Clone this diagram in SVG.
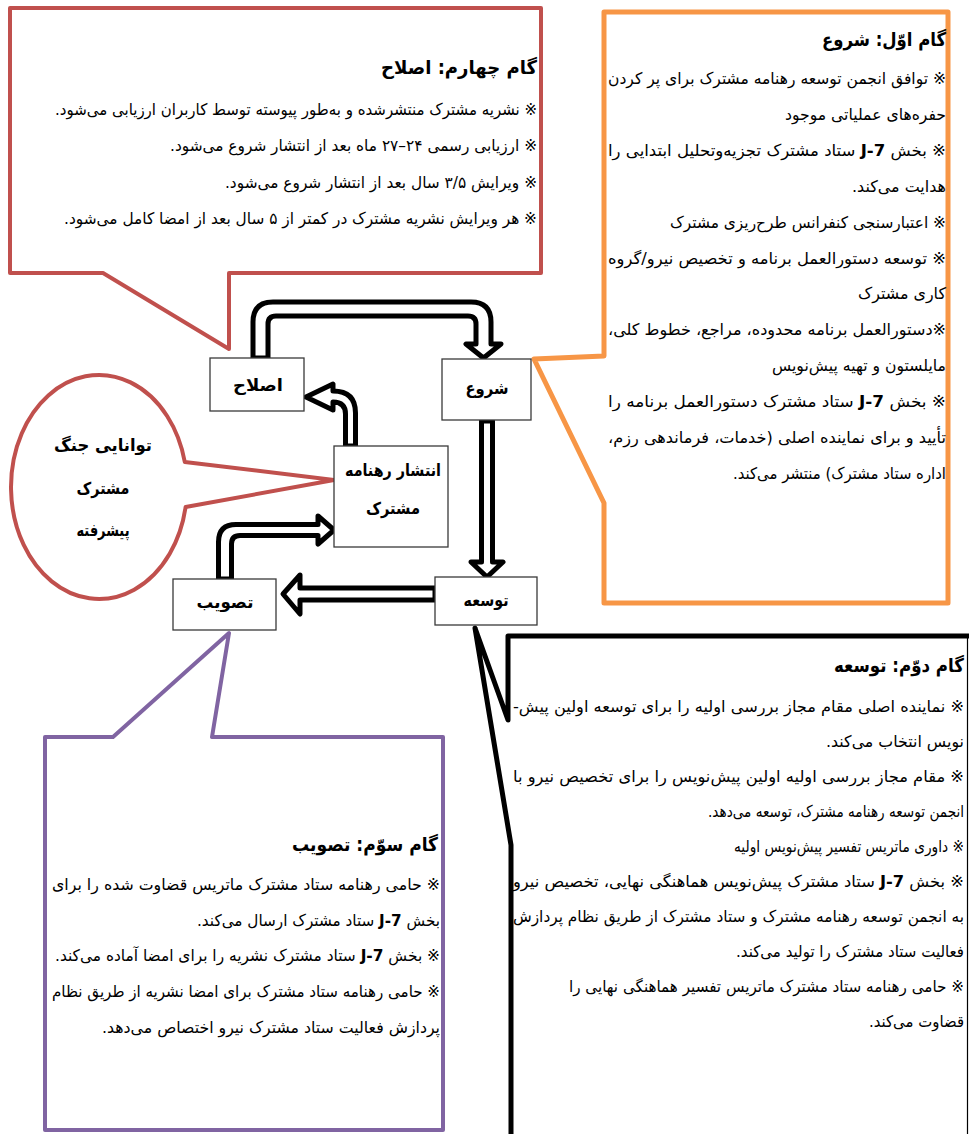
<svg xmlns="http://www.w3.org/2000/svg" width="969" height="1134" viewBox="0 0 969 1134">
<style>
.bg{fill:#fff}
.box{fill:#fff;stroke:#3a3a3a;stroke-width:1.3}
.arrow{fill:#fff;stroke:#000;stroke-width:5;stroke-linejoin:round}
.lbl{font-family:'DejaVu Sans',sans-serif;font-weight:bold;font-size:17px;text-anchor:middle;direction:rtl;fill:#000}
.b{font-family:'DejaVu Sans',sans-serif;font-size:16px;direction:rtl;text-anchor:start;fill:#000}
.ttl{font-family:'DejaVu Sans',sans-serif;font-size:19px;font-weight:bold;direction:rtl;text-anchor:start;fill:#000}
.j{font-weight:bold}
.red{fill:#fff;stroke:#C0504D;stroke-width:4;stroke-linejoin:round}
.org{fill:#fff;stroke:#F79646;stroke-width:5;stroke-linejoin:round}
.pur{fill:#fff;stroke:#8064A2;stroke-width:4;stroke-linejoin:round}
.blk{fill:#fff;stroke:#000;stroke-width:5;stroke-linejoin:round}
</style>
<rect class="bg" x="0" y="0" width="969" height="1134"/>

<g id="callout-step4">
<path class="red" d="M10,8 L541,8 L541,273 L229,273 L229,349 L103,273 L10,273 Z"/>
<text class="ttl" x="537" y="74" textLength="156" lengthAdjust="spacingAndGlyphs">گام چهارم: اصلاح</text>
<text class="b" x="537" y="115" textLength="482" lengthAdjust="spacingAndGlyphs">※ نشریه مشترک منتشرشده و به&#x200C;طور پیوسته توسط کاربران ارزیابی می&#x200C;شود.</text>
<text class="b" x="537" y="151" textLength="367" lengthAdjust="spacingAndGlyphs">※ ارزیابی رسمی ۲۴–۲۷ ماه بعد از انتشار شروع می&#x200C;شود.</text>
<text class="b" x="537" y="188" textLength="312" lengthAdjust="spacingAndGlyphs">※ ویرایش ۳/۵ سال بعد از انتشار شروع می&#x200C;شود.</text>
<text class="b" x="537" y="224" textLength="473" lengthAdjust="spacingAndGlyphs">※ هر ویرایش نشریه مشترک در کمتر از ۵ سال بعد از امضا کامل می&#x200C;شود.</text>
</g>

<g id="callout-step1">
<path class="org" d="M604,12 L948,12 L948,603 L604,603 L604,503 L534,359 L604,356 Z"/>
<text class="ttl" x="946" y="46" textLength="124" lengthAdjust="spacingAndGlyphs">گام اوّل: شروع</text>
<text class="b" x="946" y="84" textLength="338" lengthAdjust="spacingAndGlyphs">※ توافق انجمن توسعه رهنامه مشترک برای پر کردن</text>
<text class="b" x="946" y="120" textLength="161" lengthAdjust="spacingAndGlyphs">حفره&#x200C;های عملیاتی موجود</text>
<text class="b" x="946" y="156" textLength="338" lengthAdjust="spacingAndGlyphs">※ بخش <tspan class="j">J-7</tspan> ستاد مشترک تجزیه&#x200C;وتحلیل ابتدایی را</text>
<text class="b" x="946" y="192" textLength="94" lengthAdjust="spacingAndGlyphs">هدایت می&#x200C;کند.</text>
<text class="b" x="946" y="228" textLength="276" lengthAdjust="spacingAndGlyphs">※ اعتبارسنجی کنفرانس طرح&#x200C;ریزی مشترک</text>
<text class="b" x="946" y="264" textLength="338" lengthAdjust="spacingAndGlyphs">※ توسعه دستورالعمل برنامه و تخصیص نیرو/گروه</text>
<text class="b" x="946" y="299" textLength="88" lengthAdjust="spacingAndGlyphs">کاری مشترک</text>
<text class="b" x="946" y="335" textLength="338" lengthAdjust="spacingAndGlyphs">※دستورالعمل برنامه محدوده، مراجع، خطوط کلی،</text>
<text class="b" x="946" y="371" textLength="174" lengthAdjust="spacingAndGlyphs">مایلستون و تهیه پیش&#x200C;نویس</text>
<text class="b" x="946" y="407" textLength="338" lengthAdjust="spacingAndGlyphs">※ بخش <tspan class="j">J-7</tspan> ستاد مشترک دستورالعمل برنامه را</text>
<text class="b" x="946" y="443" textLength="338" lengthAdjust="spacingAndGlyphs">تأیید و برای نماینده اصلی (خدمات، فرماندهی رزم،</text>
<text class="b" x="946" y="479" textLength="213" lengthAdjust="spacingAndGlyphs">اداره ستاد مشترک) منتشر می&#x200C;کند.</text>
</g>

<g id="callout-step2">
<path class="blk" d="M980,636 L508,636 L508,720 L475,628 L511,845 L511,1145"/>
<line x1="967.5" y1="636" x2="967.5" y2="1134" stroke="#000" stroke-width="1.2"/>
<text class="ttl" x="964" y="672" textLength="130" lengthAdjust="spacingAndGlyphs">گام دوّم: توسعه</text>
<text class="b" x="964" y="712" textLength="451" lengthAdjust="spacingAndGlyphs">※ نماینده اصلی مقام مجاز بررسی اولیه را برای توسعه اولین پیش-</text>
<text class="b" x="964" y="747" textLength="138" lengthAdjust="spacingAndGlyphs">نویس انتخاب می&#x200C;کند.</text>
<text class="b" x="964" y="782" textLength="451" lengthAdjust="spacingAndGlyphs">※ مقام مجاز بررسی اولیه اولین پیش&#x200C;نویس را برای تخصیص نیرو با</text>
<text class="b" x="964" y="817" textLength="256" lengthAdjust="spacingAndGlyphs">انجمن توسعه رهنامه مشترک، توسعه می&#x200C;دهد.</text>
<text class="b" x="964" y="852" textLength="230" lengthAdjust="spacingAndGlyphs">※ داوری ماتریس تفسیر پیش&#x200C;نویس اولیه</text>
<text class="b" x="964" y="887" textLength="451" lengthAdjust="spacingAndGlyphs">※ بخش <tspan class="j">J-7</tspan> ستاد مشترک پیش&#x200C;نویس هماهنگی نهایی، تخصیص نیرو</text>
<text class="b" x="964" y="922" textLength="451" lengthAdjust="spacingAndGlyphs">به انجمن توسعه رهنامه مشترک و ستاد مشترک از طریق نظام پردازش</text>
<text class="b" x="964" y="957" textLength="228" lengthAdjust="spacingAndGlyphs">فعالیت ستاد مشترک را تولید می&#x200C;کند.</text>
<text class="b" x="964" y="992" textLength="395" lengthAdjust="spacingAndGlyphs">※ حامی رهنامه ستاد مشترک ماتریس تفسیر هماهنگی نهایی را</text>
<text class="b" x="964" y="1027" textLength="95" lengthAdjust="spacingAndGlyphs">قضاوت می&#x200C;کند.</text>
</g>

<g id="callout-step3">
<path class="pur" d="M45,737 L113,737 L229,633 L212,737 L443,737 L443,1130 L45,1130 Z"/>
<text class="ttl" x="438" y="851" textLength="146" lengthAdjust="spacingAndGlyphs">گام سوّم: تصویب</text>
<text class="b" x="440" y="890" textLength="388" lengthAdjust="spacingAndGlyphs">※ حامی رهنامه ستاد مشترک ماتریس قضاوت شده را برای</text>
<text class="b" x="440" y="926" textLength="243" lengthAdjust="spacingAndGlyphs">بخش <tspan class="j">J-7</tspan> ستاد مشترک ارسال می&#x200C;کند.</text>
<text class="b" x="440" y="961" textLength="385" lengthAdjust="spacingAndGlyphs">※ بخش <tspan class="j">J-7</tspan> ستاد مشترک نشریه را برای امضا آماده می&#x200C;کند.</text>
<text class="b" x="440" y="997" textLength="388" lengthAdjust="spacingAndGlyphs">※ حامی رهنامه ستاد مشترک برای امضا نشریه از طریق نظام</text>
<text class="b" x="440" y="1033" textLength="338" lengthAdjust="spacingAndGlyphs">پردازش فعالیت ستاد مشترک نیرو اختصاص می&#x200C;دهد.</text>
</g>

<g id="callout-capability">
<path class="red" d="M185.6,507 A88,112 0 1 1 184.8,462 L334,480 Z"/>
<text class="lbl" x="103" y="451" textLength="98" lengthAdjust="spacingAndGlyphs">توانایی جنگ</text>
<text class="lbl" x="103" y="494" textLength="53" lengthAdjust="spacingAndGlyphs">مشترک</text>
<text class="lbl" x="103" y="536" textLength="53" lengthAdjust="spacingAndGlyphs">پیشرفته</text>
</g>

<g id="connectors">
<path class="arrow" d="M253,358 L253,322 Q253,302 273,302 L471,302 Q491,302 491,322 L491,344 L501,344 L483.5,358 L466,344 L476,344 L476,324 Q476,316 468,316 L276,316 Q268,316 268,324 L268,358 Z"/>
<path class="arrow" d="M481.5,421 L481.5,562 L471,562 L487,577 L503,562 L492.5,562 L492.5,421 Z"/>
<path class="arrow" d="M435,588 L300,588 L300,575 L283,594 L300,614 L300,600 L435,600 Z"/>
<path class="arrow" d="M218.5,579 L218.5,542 Q218.5,524.5 236,524.5 L318,524.5 L318,516 L334,530 L318,544 L318,535.5 L240,535.5 Q231.5,535.5 231.5,544 L231.5,579 Z"/>
<path class="arrow" d="M345.5,446 L345.5,414 Q345.5,402 333,402 L333,410 L306,397 L333,384 L333,391 Q355.5,391 355.5,413 L355.5,446 Z"/>
</g>

<g id="node-eslah">
<rect class="box" x="210" y="358" width="94" height="53"/>
<text class="lbl" x="258" y="391" textLength="50" lengthAdjust="spacingAndGlyphs">اصلاح</text>
</g>
<g id="node-shoru">
<rect class="box" x="442" y="359" width="89" height="61"/>
<text class="lbl" x="487" y="394" textLength="43" lengthAdjust="spacingAndGlyphs">شروع</text>
</g>
<g id="node-enteshar">
<rect class="box" x="334" y="446" width="114" height="101"/>
<text class="lbl" x="393" y="476" textLength="96" lengthAdjust="spacingAndGlyphs">انتشار رهنامه</text>
<text class="lbl" x="393" y="514" textLength="54" lengthAdjust="spacingAndGlyphs">مشترک</text>
</g>
<g id="node-tasvib">
<rect class="box" x="173" y="579" width="103" height="51"/>
<text class="lbl" x="225" y="608" textLength="57" lengthAdjust="spacingAndGlyphs">تصویب</text>
</g>
<g id="node-tosee">
<rect class="box" x="435" y="577" width="102" height="48"/>
<text class="lbl" x="486" y="606" textLength="45" lengthAdjust="spacingAndGlyphs">توسعه</text>
</g>
</svg>
